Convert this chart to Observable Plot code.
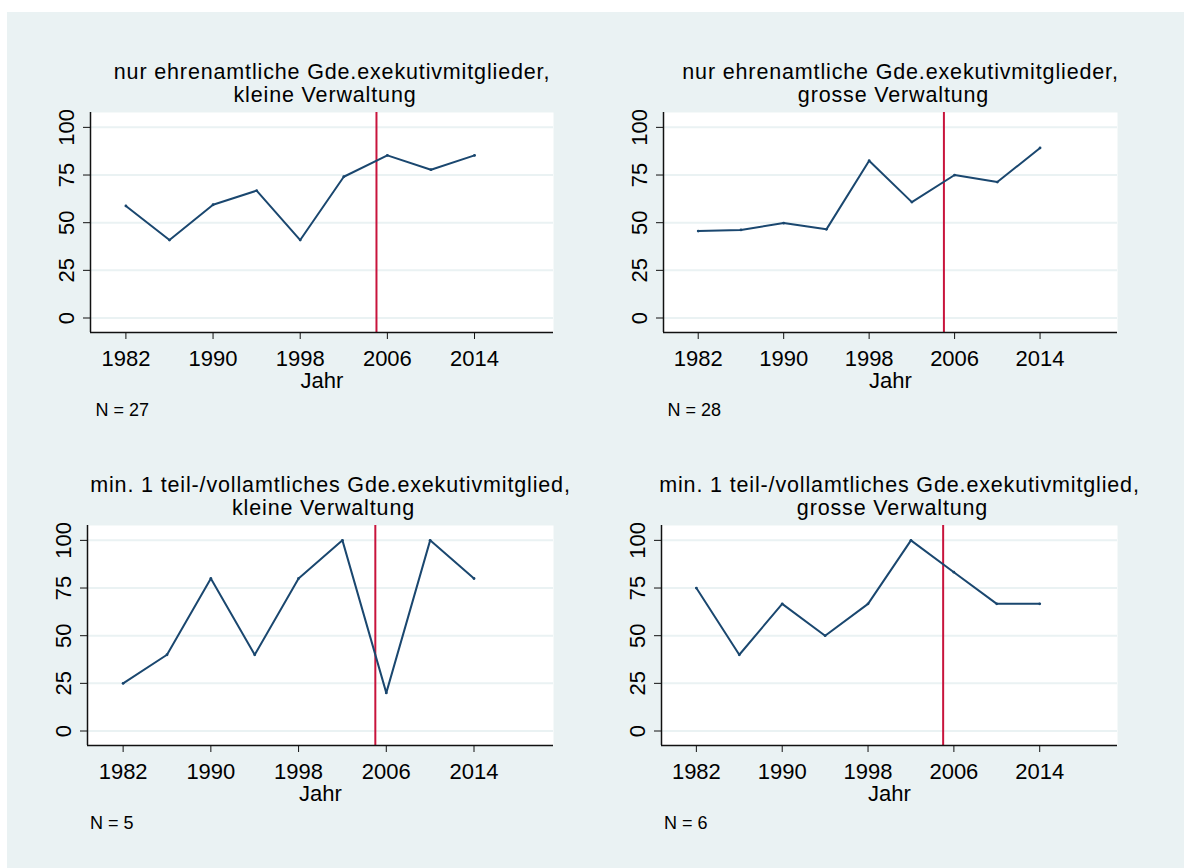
<!DOCTYPE html>
<html><head><meta charset="utf-8">
<script src="https://cdn.jsdelivr.net/npm/d3@7"></script>
<script src="https://cdn.jsdelivr.net/npm/@observablehq/plot@0.6"></script>
<style>
body{margin:0;background:#fff;}
#wrap{position:relative;width:1184px;height:868px;background:#fff;overflow:hidden;}
#bg{position:absolute;left:7px;top:12px;right:0;bottom:0;background:#EAF2F3;}
.panel{position:absolute;}
</style></head><body>
<div id="wrap"><div id="bg"></div></div>
<script>
// ---- data ----
const years = [1982, 1986, 1990, 1994, 1998, 2002, 2006, 2010, 2014];
const ehrenamtKlein = [58.8, 40.9, 59.4, 66.8, 40.9, 74.1, 85.3, 77.8, 85.3];
const ehrenamtGross = [45.6, 46.2, 49.8, 46.5, 82.5, 60.8, 75.0, 71.3, 89.2];
const teilvollKlein = [25, 40, 80, 40, 80, 100, 20, 100, 80];
const teilvollGross = [75, 40, 66.7, 50, 66.7, 100, 83.3, 66.7, 66.7];
const titles1 = ["nur ehrenamtliche Gde.exekutivmitglieder,", "nur ehrenamtliche Gde.exekutivmitglieder,",
                 "min. 1 teil-/vollamtliches Gde.exekutivmitglied,", "min. 1 teil-/vollamtliches Gde.exekutivmitglied,"];
const titles2 = ["kleine Verwaltung", "grosse Verwaltung", "kleine Verwaltung", "grosse Verwaltung"];
const notes = ["N = 27", "N = 28", "N = 5", "N = 6"];
const xTicks = [1982, 1990, 1998, 2006, 2014];
const yTicks = [0, 25, 50, 75, 100];
const xLabel = "Jahr";
const markerYear = 2005;

const series = [ehrenamtKlein, ehrenamtGross, teilvollKlein, teilvollGross];

// ---- layout ----
const layouts = [
  {left: 0,   top: 0,   width: 592, height: 434, mL: 90, mR: 39, mT: 112, mB: 102, nx: 5},
  {left: 592, top: 0,   width: 592, height: 434, mL: 71, mR: 67, mT: 112, mB: 102, nx: 4},
  {left: 0,   top: 434, width: 592, height: 434, mL: 87, mR: 39, mT: 91,  mB: 123, nx: 2.5},
  {left: 592, top: 434, width: 592, height: 434, mL: 69, mR: 67, mT: 91,  mB: 123, nx: 2.5}
];
const xDomain = [1978.75, 2021.25];
const yDomain = [-7.6, 107.8];
const navy = "#1A476F", red = "#C8143C", grid = "#EAF2F3";
const font = "'Liberation Sans', Arial, Helvetica, sans-serif";
const titleFs = 21.5, tickFs = 22, noteFs = 18;

const wrap = document.getElementById("wrap");
series.forEach((vals, i) => {
  const L = layouts[i];
  const data = years.map((y, j) => ({year: y, value: vals[j]}));
  const chart = Plot.plot({
    width: L.width, height: L.height,
    marginLeft: L.mL, marginRight: L.mR, marginTop: L.mT, marginBottom: L.mB,
    style: {background: "transparent", color: "black", fontFamily: font, fontSize: tickFs + "px", overflow: "visible"},
    x: {domain: xDomain},
    y: {domain: yDomain},
    marks: [
      Plot.frame({fill: "white", stroke: null}),
      Plot.gridY({ticks: yTicks, stroke: grid, strokeOpacity: 1, strokeWidth: 2}),
      Plot.ruleX([markerYear], {stroke: red, strokeWidth: 2}),
      Plot.line(data, {x: "year", y: "value", stroke: navy, strokeWidth: 2}),
      Plot.dot(data, {x: "year", y: "value", r: 1.4, fill: navy}),
      Plot.ruleX([xDomain[0]], {stroke: "#111", strokeWidth: 1.5}),
      Plot.ruleY([yDomain[0]], {stroke: "#111", strokeWidth: 1.5}),
      Plot.axisX({ticks: xTicks, tickSize: 7, tickPadding: 11, tickFormat: d => String(d), fontSize: tickFs, label: null, stroke: "#111"}),
      Plot.axisY({ticks: yTicks, tickSize: 7, tickPadding: 10, tickRotate: -90, fontSize: tickFs, label: null, stroke: "#111"}),
      Plot.text([titles1[i]], {frameAnchor: "top", lineAnchor: "middle", dx: 10, dy: -33.3 - 0.32 * titleFs, fontSize: titleFs, fill: "black"}),
      Plot.text([titles2[i]], {frameAnchor: "top", lineAnchor: "middle", dx: 3, dy: -10.3 - 0.32 * titleFs, fontSize: titleFs, fill: "black"}),
      Plot.text([xLabel], {frameAnchor: "bottom", lineAnchor: "middle", dy: 55 - 0.32 * tickFs, fontSize: tickFs, fill: "black"}),
      Plot.text([notes[i]], {frameAnchor: "bottom-left", lineAnchor: "middle", textAnchor: "start", dx: L.nx, dy: 83 - 0.32 * noteFs, fontSize: noteFs, fill: "black"})
    ]
  });
  // slightly wider letter spacing for the panel titles (Stata renders them wider)
  d3.select(chart).selectAll("text")
    .filter(function () { return this.textContent === titles1[i] || this.textContent === titles2[i]; })
    .attr("letter-spacing", "0.85")
    .style("letter-spacing", "0.85px");
  const div = document.createElement("div");
  div.className = "panel";
  div.style.left = L.left + "px";
  div.style.top = L.top + "px";
  div.appendChild(chart);
  wrap.appendChild(div);
});
</script>
</body></html>
